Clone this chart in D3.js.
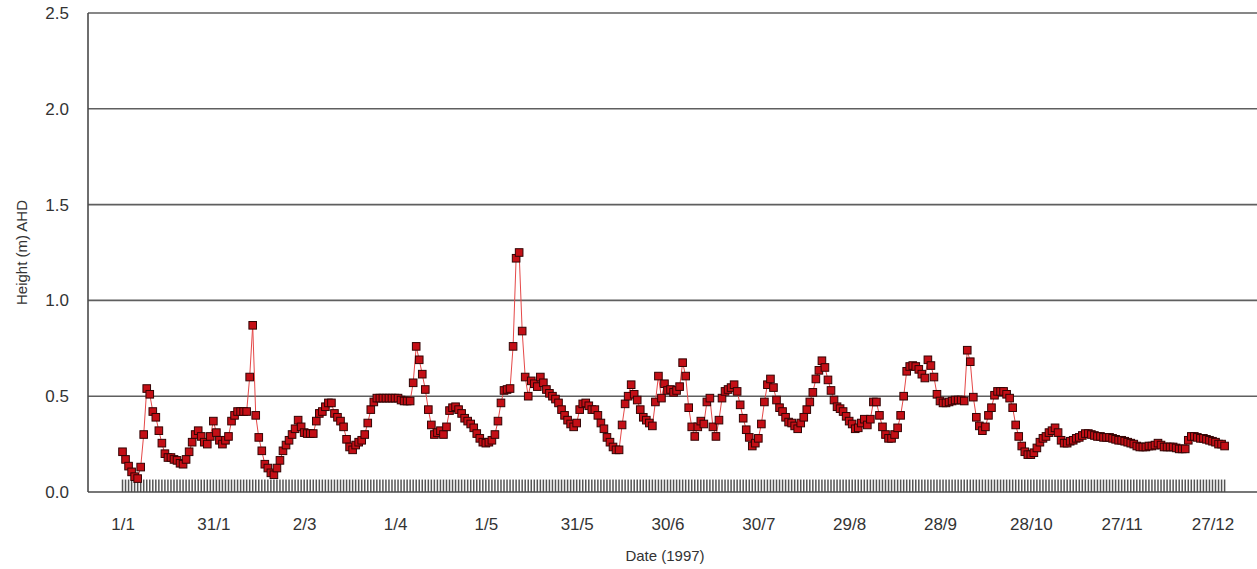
<!DOCTYPE html>
<html>
<head>
<meta charset="utf-8">
<script src="https://cdn.jsdelivr.net/npm/d3@7"></script>
<style>
  body { margin: 0; background: #fff; }
  text { font-family: Arial, "Liberation Sans", sans-serif; fill: #333; }
</style>
</head>
<body>
<div id="canvas"></div>
<script>
// daily water level, 1997

var width = 1257;
var height = 569;

// height (m) AHD, one value per day from 1 Jan
var heights = [
  0.21,0.17,0.135,0.105,0.08,0.07,0.13,0.30,0.54,0.51,
  0.42,0.39,0.32,0.255,0.20,0.18,0.18,0.17,0.165,0.15,
  0.145,0.17,0.21,0.26,0.30,0.32,0.29,0.26,0.25,0.29,
  0.37,0.31,0.27,0.25,0.27,0.29,0.37,0.40,0.42,0.42,
  0.42,0.42,0.60,0.87,0.40,0.285,0.215,0.145,0.125,0.10,
  0.09,0.125,0.165,0.215,0.245,0.27,0.30,0.33,0.375,0.34,
  0.31,0.305,0.305,0.305,0.37,0.41,0.42,0.445,0.465,0.465,
  0.41,0.39,0.37,0.34,0.275,0.235,0.22,0.245,0.26,0.27,
  0.30,0.36,0.43,0.47,0.49,0.49,0.49,0.49,0.49,0.49,
  0.49,0.49,0.48,0.475,0.475,0.475,0.57,0.76,0.69,0.615,
  0.535,0.43,0.35,0.30,0.31,0.32,0.30,0.34,0.425,0.44,
  0.445,0.43,0.41,0.385,0.37,0.355,0.335,0.305,0.28,0.26,
  0.255,0.26,0.27,0.30,0.37,0.465,0.53,0.535,0.54,0.76,
  1.22,1.25,0.84,0.60,0.50,0.58,0.565,0.55,0.60,0.57,
  0.535,0.515,0.50,0.485,0.465,0.43,0.40,0.375,0.355,0.34,
  0.36,0.43,0.46,0.465,0.45,0.43,0.43,0.40,0.36,0.33,
  0.285,0.26,0.235,0.22,0.22,0.35,0.46,0.50,0.56,0.51,
  0.48,0.43,0.39,0.375,0.36,0.345,0.47,0.605,0.49,0.565,
  0.53,0.535,0.52,0.53,0.55,0.675,0.605,0.44,0.34,0.29,
  0.34,0.37,0.355,0.47,0.49,0.34,0.29,0.375,0.49,0.525,
  0.535,0.545,0.56,0.525,0.455,0.385,0.325,0.285,0.24,0.255,
  0.28,0.355,0.47,0.56,0.59,0.545,0.48,0.44,0.42,0.39,
  0.365,0.36,0.345,0.33,0.36,0.39,0.43,0.47,0.52,0.59,
  0.635,0.685,0.65,0.585,0.53,0.48,0.445,0.435,0.42,0.395,
  0.37,0.355,0.33,0.335,0.36,0.38,0.35,0.38,0.47,0.47,
  0.40,0.34,0.30,0.28,0.28,0.30,0.335,0.40,0.50,0.63,
  0.655,0.66,0.655,0.64,0.615,0.595,0.69,0.66,0.60,0.51,
  0.475,0.465,0.465,0.47,0.475,0.48,0.48,0.48,0.475,0.74,
  0.68,0.495,0.39,0.345,0.32,0.34,0.40,0.44,0.505,0.525,
  0.525,0.525,0.51,0.49,0.44,0.35,0.29,0.24,0.21,0.195,
  0.195,0.205,0.23,0.26,0.28,0.29,0.31,0.32,0.335,0.31,
  0.27,0.255,0.255,0.265,0.27,0.28,0.285,0.295,0.305,0.305,
  0.30,0.295,0.29,0.29,0.285,0.285,0.285,0.28,0.275,0.27,
  0.27,0.265,0.26,0.255,0.25,0.24,0.235,0.235,0.235,0.24,
  0.24,0.245,0.255,0.245,0.235,0.235,0.235,0.235,0.23,0.225,
  0.225,0.225,0.27,0.29,0.29,0.285,0.28,0.28,0.275,0.27,
  0.265,0.26,0.25,0.25,0.24
];

// small record marker drawn under every day
var recordMark = 0.065;

var xTickDays = [0, 30, 60, 90, 120, 150, 180, 210, 240, 270, 300, 330, 360];
var xTickLabels = ["1/1", "31/1", "2/3", "1/4", "1/5", "31/5", "30/6", "30/7", "29/8", "28/9", "28/10", "27/11", "27/12"];
var yTicks = [0, 0.5, 1.0, 1.5, 2.0, 2.5];

var plotL = 88, plotR = 1257, plotT = 13, plotB = 492;

var x = d3.scaleLinear().domain([-11.4, 374.7]).range([plotL, plotR]);
var y = d3.scaleLinear().domain([0, 2.5]).range([plotB, plotT]);

var svg = d3.select("#canvas").append("svg")
	.attr("width", width)
	.attr("height", height);

// gridlines
svg.append("g").selectAll("line")
	.data(yTicks.filter(function(d){ return d > 0; }))
	.enter().append("line")
	.attr("x1", plotL).attr("x2", plotR)
	.attr("y1", function(d){ return y(d); })
	.attr("y2", function(d){ return y(d); })
	.style("stroke", "#5f5f5f")
	.style("stroke-width", 1.6);

// record bars
svg.append("g").selectAll("rect")
	.data(heights)
	.enter().append("rect")
	.attr("x", function(d, i){ return x(i) - 0.75; })
	.attr("width", 1.5)
	.attr("y", y(recordMark))
	.attr("height", y(0) - y(recordMark))
	.style("fill", "#555");

var line = d3.line()
	.x(function(d, i){ return x(i); })
	.y(function(d){ return y(d); });

svg.append("path")
	.datum(heights)
	.attr("d", line)
	.style("fill", "none")
	.style("stroke", "#e54848")
	.style("stroke-width", 1);

svg.append("g").selectAll("rect")
	.data(heights)
	.enter().append("rect")
	.attr("x", function(d, i){ return x(i) - 3.8; })
	.attr("y", function(d){ return y(d) - 3.8; })
	.attr("width", 7.6)
	.attr("height", 7.6)
	.style("fill", "#c40f16")
	.style("stroke", "#330404")
	.style("stroke-width", 1);

// axes
var xAxis = d3.axisBottom(x)
	.tickValues(xTickDays)
	.tickFormat(function(d, i){ return xTickLabels[i]; })
	.tickSize(0)
	.tickPadding(26);

var yAxis = d3.axisLeft(y)
	.tickValues(yTicks)
	.tickFormat(d3.format(".1f"))
	.tickSize(0)
	.tickPadding(19);

var gx = svg.append("g").attr("transform", "translate(0," + plotB + ")").call(xAxis);
var gy = svg.append("g").attr("transform", "translate(" + plotL + ",0)").call(yAxis);

gx.select(".domain").remove();
gy.select(".domain").remove();
gx.selectAll("text").style("font-size", "17px").style("fill", "#333").style("font-family", "Arial, 'Liberation Sans', sans-serif");
gy.selectAll("text").style("font-size", "17px").style("fill", "#333").style("font-family", "Arial, 'Liberation Sans', sans-serif");

svg.append("line")
	.attr("x1", plotL).attr("x2", plotR)
	.attr("y1", plotB).attr("y2", plotB)
	.style("stroke", "#4a4a4a").style("stroke-width", 1.6);
svg.append("line")
	.attr("x1", plotL).attr("x2", plotL)
	.attr("y1", plotT).attr("y2", plotB)
	.style("stroke", "#4a4a4a").style("stroke-width", 1.6);

svg.append("text")
	.attr("x", 665)
	.attr("y", 561)
	.attr("text-anchor", "middle")
	.style("font-size", "15px")
	.text("Date (1997)");

svg.append("text")
	.attr("transform", "translate(27," + ((plotT + plotB) / 2) + ") rotate(-90)")
	.attr("text-anchor", "middle")
	.style("font-size", "15px")
	.text("Height (m) AHD");
</script>
</body>
</html>
